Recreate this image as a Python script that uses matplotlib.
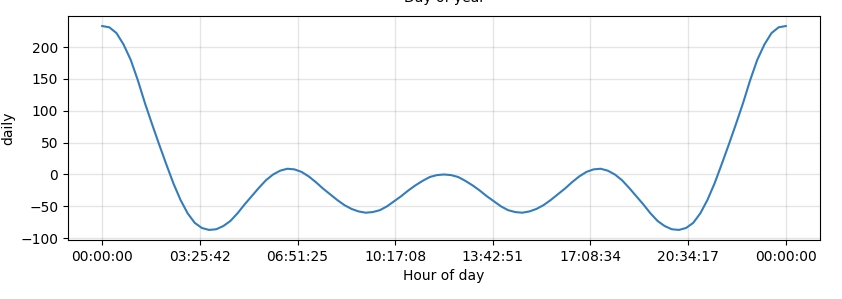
import matplotlib.pyplot as plt
import numpy as np

# daily seasonality component, every quarter hour
hours = [
    0.00, 0.25, 0.50, 0.75, 1.00, 1.25, 1.50, 1.75, 2.00, 2.25, 2.50, 2.75,
    3.00, 3.25, 3.50, 3.75, 4.00, 4.25, 4.50, 4.75, 5.00, 5.25, 5.50, 5.75,
    6.00, 6.25, 6.50, 6.75, 7.00, 7.25, 7.50, 7.75, 8.00, 8.25, 8.50, 8.75,
    9.00, 9.25, 9.50, 9.75, 10.00, 10.25, 10.50, 10.75, 11.00, 11.25, 11.50, 11.75,
    12.00, 12.25, 12.50, 12.75, 13.00, 13.25, 13.50, 13.75, 14.00, 14.25, 14.50, 14.75,
    15.00, 15.25, 15.50, 15.75, 16.00, 16.25, 16.50, 16.75, 17.00, 17.25, 17.50, 17.75,
    18.00, 18.25, 18.50, 18.75, 19.00, 19.25, 19.50, 19.75, 20.00, 20.25, 20.50, 20.75,
    21.00, 21.25, 21.50, 21.75, 22.00, 22.25, 22.50, 22.75, 23.00, 23.25, 23.50, 23.75,
    24.00,
]
daily = [
    233, 231, 222, 204, 180, 148, 112, 79, 47, 16, -14, -40,
    -61, -76, -84, -87, -86, -81, -73, -61, -47, -34, -21, -9,
    0, 6, 9, 8, 4, -3, -12, -22, -31, -40, -48, -54,
    -58, -60, -59, -56, -50, -42, -34, -25, -17, -10, -4, -1,
    0, -1, -4, -10, -17, -25, -34, -42, -50, -56, -59, -60,
    -58, -54, -48, -40, -31, -22, -12, -3, 4, 8, 9, 6,
    0, -9, -21, -34, -47, -61, -73, -81, -86, -87, -84, -76,
    -61, -40, -14, 16, 47, 79, 112, 148, 180, 204, 222, 231,
    233,
]

tick_pos = [0, 24 / 7, 48 / 7, 72 / 7, 96 / 7, 120 / 7, 144 / 7, 24]
tick_labels = ["00:00:00", "03:25:42", "06:51:25", "10:17:08",
               "13:42:51", "17:08:34", "20:34:17", "00:00:00"]

fig = plt.figure(figsize=(8.42, 2.99), dpi=100)
ax = fig.add_axes([0.0808, 0.197, 0.893, 0.75])

ax.plot(hours, daily, ls="-", c="#337dbd", lw=1.5, solid_joinstyle="round")
ax.grid(True, which="major", c="gray", ls="-", lw=1, alpha=0.2)
ax.set_xticks(tick_pos)
ax.set_xticklabels(tick_labels)
ax.set_xlabel("Hour of day")
ax.set_ylabel("daily")

# xlabel of the panel above, mostly cut off at the top edge
fig.text(0.528, 1 + 2 / 299, "Day of year", ha="center", va="center")

fig.savefig("out.png", dpi=100)
